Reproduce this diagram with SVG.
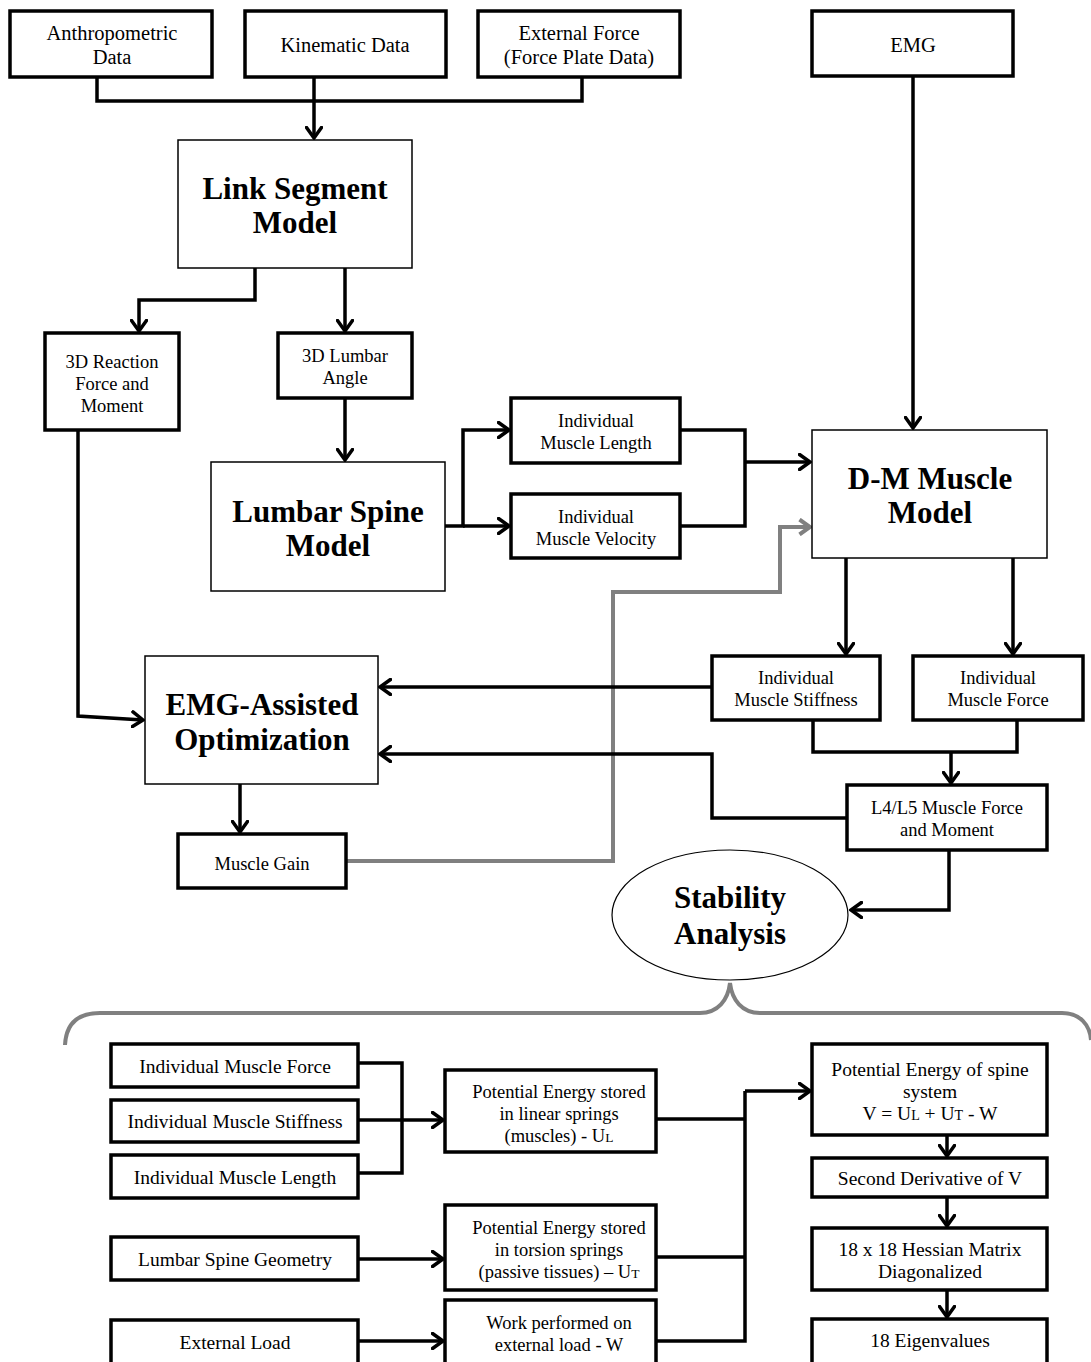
<svg xmlns="http://www.w3.org/2000/svg" width="1091" height="1362" viewBox="0 0 1091 1362">
<defs>
<style>
.bx{fill:#fff;stroke:#000;stroke-width:3.5}
.tn{fill:#fff;stroke:#000;stroke-width:1.5}
.t{font-family:"Liberation Serif","DejaVu Serif",serif;font-size:19.5px;text-anchor:middle;fill:#000}
.top{font-size:20.5px}
.s{font-size:18.5px}
.pe{font-size:18.5px}
.b{font-family:"Liberation Serif","DejaVu Serif",serif;font-weight:bold;font-size:31px;text-anchor:middle;fill:#000}
.c{fill:none;stroke:#000;stroke-width:3.5;stroke-linejoin:miter}
.g{fill:none;stroke:#808080;stroke-width:4}
</style>
<marker id="ah" viewBox="0 0 14 18" refX="12" refY="9" markerWidth="14" markerHeight="18" orient="auto" markerUnits="userSpaceOnUse"><path d="M1.5,1.5 L12,9 L1.5,16.5" fill="none" stroke="#000" stroke-width="3.5" stroke-linecap="round"/></marker>
<marker id="ahg" viewBox="0 0 14 18" refX="12" refY="9" markerWidth="14" markerHeight="18" orient="auto" markerUnits="userSpaceOnUse"><path d="M1.5,1.5 L12,9 L1.5,16.5" fill="none" stroke="#808080" stroke-width="4"/></marker>
</defs>
<rect width="1091" height="1362" fill="#fff"/>

<g id="connectors">
<path class="c" d="M97,77 V101 H582 V77"/>
<path class="c" d="M314,77 V138" marker-end="url(#ah)"/>
<path class="c" d="M255,268 V300 H139 V331" marker-end="url(#ah)"/>
<path class="c" d="M345,268 V331" marker-end="url(#ah)"/>
<path class="c" d="M345,398 V460" marker-end="url(#ah)"/>
<path class="c" d="M445,526 H463 V430 H509" marker-end="url(#ah)"/>
<path class="c" d="M463,526 H509" marker-end="url(#ah)"/>
<path class="c" d="M680,430 H745 V526 H680"/>
<path class="c" d="M745,462 H810" marker-end="url(#ah)"/>
<path class="c" d="M913,76 V428" marker-end="url(#ah)"/>
<path class="g" d="M346,861 H613 V592 H780 V527 H810" marker-end="url(#ahg)"/>
<path class="c" d="M846,558 V654" marker-end="url(#ah)"/>
<path class="c" d="M1013,558 V654" marker-end="url(#ah)"/>
<path class="c" d="M78,430 V716 L143,720" marker-end="url(#ah)"/>
<path class="c" d="M712,687 H380" marker-end="url(#ah)"/>
<path class="c" d="M813,720 V752 H1017 V720"/>
<path class="c" d="M951,752 V783" marker-end="url(#ah)"/>
<path class="c" d="M847,818 H712 V754 H380" marker-end="url(#ah)"/>
<path class="c" d="M240,784 V832" marker-end="url(#ah)"/>
<path class="c" d="M949,850 V910 H851" stroke-width="5" marker-end="url(#ah)"/>
<path class="g" stroke-width="3" d="M65,1045 C66,1025 76,1013 100,1013 H700 C718,1013 728,1000 730,983 C732,1000 742,1013 760,1013 H1062 C1080,1013 1090,1025 1091,1040"/>
<path class="c" d="M358,1063 H402 V1173 H358"/>
<path class="c" d="M358,1120 H443" stroke-width="4.5" marker-end="url(#ah)"/>
<path class="c" d="M358,1259 H443" marker-end="url(#ah)"/>
<path class="c" d="M358,1341 H443" marker-end="url(#ah)"/>
<path class="c" d="M656,1119 H745 M656,1257 H745 M656,1341 H745 V1091"/>
<path class="c" d="M745,1091 H810" marker-end="url(#ah)"/>
<path class="c" d="M947,1135 V1156" marker-end="url(#ah)"/>
<path class="c" d="M947,1197 V1226" marker-end="url(#ah)"/>
<path class="c" d="M947,1290 V1317" marker-end="url(#ah)"/>
</g>

<g id="n-anthro"><rect class="bx" x="10" y="11" width="202" height="66"/><text class="t top" x="112" y="40">Anthropometric</text><text class="t top" x="112" y="64">Data</text></g>
<g id="n-kin"><rect class="bx" x="245" y="11" width="201" height="66"/><text class="t top" x="345" y="52">Kinematic Data</text></g>
<g id="n-ext"><rect class="bx" x="478" y="11" width="202" height="66"/><text class="t top" x="579" y="40">External Force</text><text class="t top" x="579" y="64">(Force Plate Data)</text></g>
<g id="n-emg"><rect class="bx" x="812" y="11" width="201" height="65"/><text class="t top" x="913" y="52">EMG</text></g>
<g id="n-link"><rect class="tn" x="178" y="140" width="234" height="128"/><text class="b" x="295" y="199">Link Segment</text><text class="b" x="295" y="233">Model</text></g>
<g id="n-react"><rect class="bx" x="45" y="333" width="134" height="97"/><text class="t s" x="112" y="368">3D Reaction</text><text class="t s" x="112" y="390">Force and</text><text class="t s" x="112" y="412">Moment</text></g>
<g id="n-angle"><rect class="bx" x="278" y="333" width="134" height="65"/><text class="t s" x="345" y="362">3D Lumbar</text><text class="t s" x="345" y="384">Angle</text></g>
<g id="n-lumbar"><rect class="tn" x="211" y="462" width="234" height="129"/><text class="b" x="328" y="522">Lumbar Spine</text><text class="b" x="328" y="556">Model</text></g>
<g id="n-len"><rect class="bx" x="511" y="398" width="169" height="65"/><text class="t s" x="596" y="427">Individual</text><text class="t s" x="596" y="449">Muscle Length</text></g>
<g id="n-vel"><rect class="bx" x="511" y="494" width="169" height="64"/><text class="t s" x="596" y="523">Individual</text><text class="t s" x="596" y="545">Muscle Velocity</text></g>
<g id="n-dm"><rect class="tn" x="812" y="430" width="235" height="128"/><text class="b" x="930" y="489" font-size="30">D-M Muscle</text><text class="b" x="930" y="523" font-size="30">Model</text></g>
<g id="n-stiff"><rect class="bx" x="712" y="656" width="168" height="64"/><text class="t s" x="796" y="684">Individual</text><text class="t s" x="796" y="706">Muscle Stiffness</text></g>
<g id="n-force"><rect class="bx" x="913" y="656" width="170" height="64"/><text class="t s" x="998" y="684">Individual</text><text class="t s" x="998" y="706">Muscle Force</text></g>
<g id="n-opt"><rect class="tn" x="145" y="656" width="233" height="128"/><text class="b" x="262" y="715" font-size="30">EMG-Assisted</text><text class="b" x="262" y="750" font-size="30">Optimization</text></g>
<g id="n-l4l5"><rect class="bx" x="847" y="785" width="200" height="65"/><text class="t s" x="947" y="814">L4/L5 Muscle Force</text><text class="t s" x="947" y="836">and Moment</text></g>
<g id="n-gain"><rect class="bx" x="178" y="834" width="168" height="54"/><text class="t s" x="262" y="870">Muscle Gain</text></g>
<g id="n-stab"><ellipse cx="730" cy="915" rx="118" ry="65" fill="#fff" stroke="#000" stroke-width="1.2"/><text class="b" x="730" y="908" font-size="32">Stability</text><text class="b" x="730" y="944" font-size="32">Analysis</text></g>

<g id="n-bforce"><rect class="bx" x="111" y="1044" width="247" height="43"/><text class="t" x="235" y="1073">Individual Muscle Force</text></g>
<g id="n-bstiff"><rect class="bx" x="111" y="1100" width="247" height="42"/><text class="t" x="235" y="1128">Individual Muscle Stiffness</text></g>
<g id="n-blen"><rect class="bx" x="111" y="1155" width="247" height="43"/><text class="t" x="235" y="1184">Individual Muscle Length</text></g>
<g id="n-geom"><rect class="bx" x="111" y="1237" width="247" height="43"/><text class="t" x="235" y="1266">Lumbar Spine Geometry</text></g>
<g id="n-load"><rect class="bx" x="111" y="1320" width="247" height="45"/><text class="t" x="235" y="1349">External Load</text></g>
<g id="n-pel"><rect class="bx" x="445" y="1070" width="211" height="82"/><text class="t pe" x="559" y="1098">Potential Energy stored</text><text class="t pe" x="559" y="1120">in linear springs</text><text class="t pe" x="559" y="1142">(muscles) - U<tspan font-size="13.5">L</tspan></text></g>
<g id="n-pet"><rect class="bx" x="445" y="1205" width="211" height="85"/><text class="t pe" x="559" y="1234">Potential Energy stored</text><text class="t pe" x="559" y="1256">in torsion springs</text><text class="t pe" x="559" y="1278">(passive tissues) – U<tspan font-size="13.5">T</tspan></text></g>
<g id="n-work"><rect class="bx" x="445" y="1300" width="211" height="65"/><text class="t pe" x="559" y="1329">Work performed on</text><text class="t pe" x="559" y="1351">external load - W</text></g>
<g id="n-pev"><rect class="bx" x="812" y="1044" width="235" height="91"/><text class="t" x="930" y="1076">Potential Energy of spine</text><text class="t" x="930" y="1098">system</text><text class="t" x="930" y="1120">V = U<tspan font-size="14">L</tspan> + U<tspan font-size="14">T</tspan>  - W</text></g>
<g id="n-d2"><rect class="bx" x="812" y="1158" width="235" height="39"/><text class="t" x="930" y="1185">Second Derivative of V</text></g>
<g id="n-hess"><rect class="bx" x="812" y="1228" width="235" height="62"/><text class="t" x="930" y="1256">18 x 18 Hessian Matrix</text><text class="t" x="930" y="1278">Diagonalized</text></g>
<g id="n-eig"><rect class="bx" x="812" y="1319" width="235" height="46"/><text class="t" x="930" y="1347">18 Eigenvalues</text></g>
</svg>
